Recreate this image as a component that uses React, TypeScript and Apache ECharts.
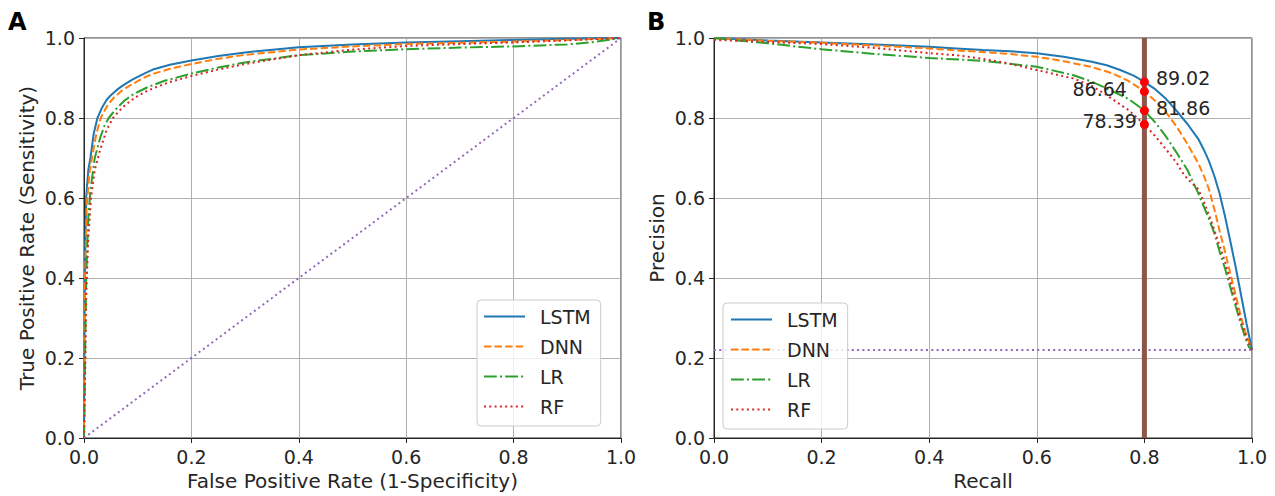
import React, { useEffect, useRef } from "react";
import * as echarts from "echarts";

// ---------- data ----------
const models = ["LSTM", "DNN", "LR", "RF"];

// ROC curves: [false positive rate, true positive rate]
const rocLSTM: [number, number][] = [
  [0, 0], [0.0015, 0.4], [0.004, 0.6], [0.008, 0.67], [0.012, 0.7], [0.018, 0.76],
  [0.025, 0.8], [0.034, 0.827], [0.042, 0.845], [0.05, 0.857], [0.06, 0.869],
  [0.07, 0.879], [0.08, 0.888], [0.09, 0.896], [0.1, 0.903], [0.115, 0.913],
  [0.13, 0.922], [0.16, 0.933], [0.2, 0.944], [0.25, 0.955], [0.3, 0.964],
  [0.4, 0.977], [0.5, 0.984], [0.6, 0.989], [0.7, 0.992], [0.8, 0.995],
  [0.9, 0.998], [1, 1],
];
const rocDNN: [number, number][] = [
  [0, 0], [0.002, 0.4], [0.005, 0.58], [0.01, 0.66], [0.016, 0.71], [0.023, 0.76],
  [0.031, 0.8], [0.043, 0.83], [0.055, 0.85], [0.07, 0.868], [0.085, 0.881],
  [0.1, 0.892], [0.115, 0.903], [0.13, 0.911], [0.16, 0.923], [0.2, 0.935],
  [0.25, 0.948], [0.3, 0.958], [0.4, 0.971], [0.5, 0.979], [0.6, 0.985],
  [0.7, 0.988], [0.8, 0.991], [0.9, 0.995], [1, 1],
];
const rocLR: [number, number][] = [
  [0, 0], [0.002, 0.2], [0.004, 0.4], [0.008, 0.55], [0.012, 0.62], [0.02, 0.7],
  [0.03, 0.75], [0.038, 0.78], [0.046, 0.8], [0.055, 0.815], [0.065, 0.83],
  [0.075, 0.843], [0.088, 0.856], [0.1, 0.865], [0.12, 0.878], [0.15, 0.893],
  [0.2, 0.911], [0.25, 0.926], [0.3, 0.939], [0.4, 0.957], [0.5, 0.966],
  [0.6, 0.972], [0.7, 0.976], [0.8, 0.979], [0.9, 0.984], [0.95, 0.99], [1, 1],
];
const rocRF: [number, number][] = [
  [0, 0], [0.002, 0.15], [0.004, 0.35], [0.008, 0.5], [0.013, 0.6], [0.02, 0.67],
  [0.03, 0.72], [0.042, 0.77], [0.054, 0.8], [0.065, 0.817], [0.075, 0.83],
  [0.088, 0.844], [0.1, 0.855], [0.115, 0.866], [0.13, 0.875], [0.16, 0.89],
  [0.2, 0.905], [0.25, 0.921], [0.3, 0.935], [0.4, 0.957], [0.5, 0.971],
  [0.6, 0.98], [0.7, 0.985], [0.8, 0.989], [0.9, 0.994], [1, 1],
];
const rocChance: [number, number][] = [[0, 0], [1, 1]];

// Precision-recall curves: [recall, precision]
const prLSTM: [number, number][] = [
  [0, 1.0], [0.05, 0.997], [0.1, 0.994], [0.2, 0.989], [0.3, 0.984], [0.4, 0.978],
  [0.45, 0.974], [0.5, 0.97], [0.55, 0.967], [0.6, 0.962], [0.65, 0.953],
  [0.7, 0.941], [0.73, 0.932], [0.755, 0.92], [0.78, 0.906], [0.8, 0.8902],
  [0.82, 0.872], [0.84, 0.848], [0.86, 0.818], [0.88, 0.785], [0.9, 0.748],
  [0.91, 0.722], [0.92, 0.692], [0.93, 0.655], [0.94, 0.61], [0.95, 0.553],
  [0.96, 0.49], [0.97, 0.425], [0.98, 0.355], [0.99, 0.285], [1.0, 0.22],
];
const prDNN: [number, number][] = [
  [0, 1.0], [0.05, 0.996], [0.1, 0.993], [0.2, 0.988], [0.3, 0.981], [0.4, 0.974],
  [0.45, 0.969], [0.5, 0.965], [0.55, 0.96], [0.6, 0.953], [0.65, 0.942],
  [0.7, 0.928], [0.74, 0.912], [0.77, 0.893], [0.8, 0.8664], [0.82, 0.843],
  [0.84, 0.815], [0.86, 0.778], [0.88, 0.735], [0.9, 0.687], [0.91, 0.657],
  [0.92, 0.622], [0.93, 0.572], [0.94, 0.517], [0.95, 0.465], [0.96, 0.41],
  [0.97, 0.355], [0.98, 0.3], [0.99, 0.255], [1.0, 0.22],
];
const prLR: [number, number][] = [
  [0, 1.0], [0.05, 0.993], [0.1, 0.987], [0.15, 0.979], [0.2, 0.972], [0.3, 0.96],
  [0.4, 0.95], [0.5, 0.943], [0.6, 0.928], [0.667, 0.9075], [0.7, 0.892],
  [0.73, 0.874], [0.77, 0.848], [0.8, 0.8186], [0.82, 0.789], [0.84, 0.754],
  [0.86, 0.713], [0.88, 0.67], [0.9, 0.612], [0.91, 0.58], [0.92, 0.548],
  [0.93, 0.512], [0.94, 0.465], [0.95, 0.423], [0.96, 0.375], [0.97, 0.328],
  [0.98, 0.282], [0.99, 0.24], [0.995, 0.226], [1.0, 0.22],
];
const prRF: [number, number][] = [
  [0, 0.995], [0.05, 0.993], [0.1, 0.99], [0.2, 0.985], [0.3, 0.975], [0.4, 0.962],
  [0.45, 0.957], [0.5, 0.948], [0.545, 0.937], [0.6, 0.92], [0.667, 0.899],
  [0.7, 0.882], [0.73, 0.857], [0.77, 0.82], [0.8, 0.7839], [0.82, 0.755],
  [0.84, 0.722], [0.86, 0.688], [0.87, 0.665], [0.88, 0.648], [0.89, 0.635],
  [0.9, 0.622], [0.91, 0.592], [0.92, 0.558], [0.93, 0.52], [0.94, 0.48],
  [0.95, 0.44], [0.96, 0.39], [0.97, 0.338], [0.98, 0.29], [0.99, 0.25],
  [1.0, 0.22],
];
const prBaselineLevel = 0.22;
const prBaseline: [number, number][] = [[0, prBaselineLevel], [1, prBaselineLevel]];

const recallCut = 0.8;
const precisionAtCut = [0.8902, 0.8664, 0.8186, 0.7839];

const axisTicks = [0, 0.2, 0.4, 0.6, 0.8, 1.0];

// ---------- styles ----------
const FONT = "DejaVu Sans";
const TXT = "#262626";
const colors = ["#1f77b4", "#ff7f0e", "#2ca02c", "#d62728"];
const dashes: any[] = ["solid", [7.4, 3.2], [12.8, 3.2, 2, 3.2], [2, 3.3]];
const labelSides = [
  { position: "right", distance: 7, offset: [0, -4] },
  { position: "left", distance: 13, offset: [0, -2.5] },
  { position: "right", distance: 7, offset: [0, -2.5] },
  { position: "left", distance: 3, offset: [0, -3.5] },
];

function makeXAxis(gridIndex: number, name: string) {
  return {
    type: "value",
    gridIndex,
    min: axisTicks[0],
    max: axisTicks[axisTicks.length - 1],
    interval: 0.2,
    name,
    nameLocation: "middle",
    nameGap: 30,
    nameTextStyle: { fontSize: 20, color: TXT, fontFamily: FONT },
    axisLine: { show: true, onZero: false, lineStyle: { color: TXT, width: 1 } },
    axisTick: { show: true, length: 5, lineStyle: { color: TXT, width: 1 } },
    axisLabel: {
      fontSize: 19, color: TXT, fontFamily: FONT, margin: 9,
      formatter: (v: number) => v.toFixed(1),
    },
    splitLine: { show: true, lineStyle: { color: "#b0b0b0", width: 1 } },
  };
}
function makeYAxis(gridIndex: number, name: string) {
  return {
    ...makeXAxis(gridIndex, name),
    nameGap: 47,
  };
}

export default function App() {
  const ref = useRef<HTMLDivElement>(null);
  useEffect(() => {
    if (!ref.current) return;
    const chart = echarts.init(ref.current, undefined, { renderer: "svg" });
    const rocSets = [rocLSTM, rocDNN, rocLR, rocRF];
    const prSets = [prLSTM, prDNN, prLR, prRF];

    const series: any[] = [];
    models.forEach((m, i) => {
      series.push({
        type: "line", name: m, xAxisIndex: 0, yAxisIndex: 0, data: rocSets[i],
        symbol: "none", showSymbol: false, smooth: false, itemStyle: { color: colors[i] },
        lineStyle: { color: colors[i], width: 2, type: dashes[i] },
      });
    });
    series.push({
      type: "line", name: "chance", xAxisIndex: 0, yAxisIndex: 0, data: rocChance,
      symbol: "none", itemStyle: { color: "#9467bd" },
      lineStyle: { color: "#9467bd", width: 2, type: [2, 3.3] },
    });
    models.forEach((m, i) => {
      series.push({
        type: "line", name: m, xAxisIndex: 1, yAxisIndex: 1, data: prSets[i],
        symbol: "none", showSymbol: false, smooth: false, itemStyle: { color: colors[i] },
        lineStyle: { color: colors[i], width: 2, type: dashes[i] },
      });
    });
    series.push({
      type: "line", name: "baseline", xAxisIndex: 1, yAxisIndex: 1, data: prBaseline,
      symbol: "none", itemStyle: { color: "#9467bd" },
      lineStyle: { color: "#9467bd", width: 2, type: [2, 3.3] },
    });
    series.push({
      type: "line", name: "cut", xAxisIndex: 1, yAxisIndex: 1,
      data: [[recallCut, 0], [recallCut, 1]],
      symbol: "none", itemStyle: { color: "#8c564b" },
      lineStyle: { color: "#8c564b", width: 5 },
    });
    series.push({
      type: "scatter", name: "points", xAxisIndex: 1, yAxisIndex: 1,
      symbolSize: 9, itemStyle: { color: "#ff0000", opacity: 1 }, z: 5,
      data: precisionAtCut.map((p, i) => ({
        value: [recallCut, p],
        label: {
          show: true,
          formatter: (p * 100).toFixed(2),
          fontSize: 19, color: TXT, fontFamily: FONT,
          ...labelSides[i],
        },
      })),
    });

    const legendBase = {
      orient: "vertical",
      data: models,
      itemWidth: 41,
      itemHeight: 14,
      itemGap: 11,
      selectedMode: false,
      backgroundColor: "rgba(255,255,255,0.8)",
      borderColor: "#cccccc",
      borderWidth: 1,
      borderRadius: 4,
      itemStyle: { opacity: 0, borderWidth: 0 },
      textStyle: { fontSize: 19, color: TXT, fontFamily: FONT, lineHeight: 19, padding: [0, 0, 0, 10] },
    };

    chart.setOption({
      animation: false,
      backgroundColor: "#ffffff",
      textStyle: { fontFamily: FONT },
      title: [
        { text: "A", left: 8, top: 10, padding: 0, textStyle: { fontSize: 24, fontWeight: "bold", color: "#000", fontFamily: FONT } },
        { text: "B", left: 647, top: 10, padding: 0, textStyle: { fontSize: 24, fontWeight: "bold", color: "#000", fontFamily: FONT } },
      ],
      grid: [
        { left: 84, top: 38, width: 537, height: 400, show: true, borderColor: TXT, borderWidth: 1, backgroundColor: "transparent" },
        { left: 714, top: 38, width: 538, height: 400, show: true, borderColor: TXT, borderWidth: 1, backgroundColor: "transparent" },
      ],
      xAxis: [makeXAxis(0, "False Positive Rate (1-Specificity)"), makeXAxis(1, "Recall")],
      yAxis: [makeYAxis(0, "True Positive Rate (Sensitivity)"), makeYAxis(1, "Precision")],
      legend: [
        { ...legendBase, left: 477, top: 300, padding: [7, 10, 10, 6] },
        { ...legendBase, left: 723, top: 303, padding: [7, 10, 10, 7] },
      ],
      series,
    });
    return () => chart.dispose();
  }, []);
  return (
    <div
      ref={ref}
      style={{ position: "absolute", left: 0, top: 0, width: 1275, height: 496, background: "#fff" }}
    />
  );
}
